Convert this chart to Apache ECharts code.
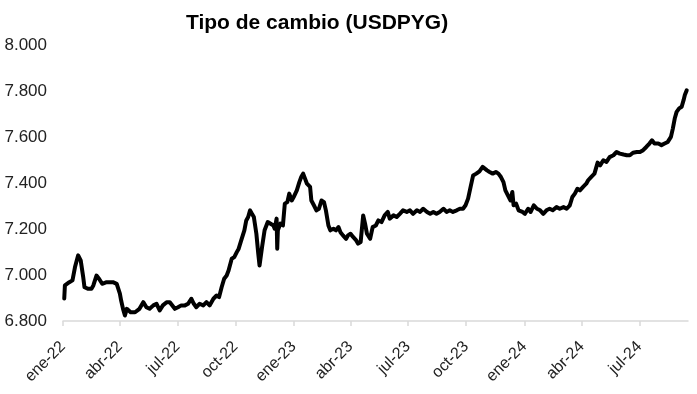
<!DOCTYPE html>
<html>
<head>
<meta charset="utf-8">
<script src="https://cdn.jsdelivr.net/npm/echarts@6/dist/echarts.min.js"></script>
<style>
html,body{margin:0;padding:0;background:#fff;}
#chart{width:697px;height:394px;}
</style>
</head>
<body>
<div id="chart"></div>
<script>
var titleText = 'Tipo de cambio (USDPYG)';

var dates = [
'2022-01-03','2022-01-04','2022-01-07','2022-01-11','2022-01-16','2022-01-20','2022-01-25','2022-01-29',
'2022-02-02','2022-02-04','2022-02-10','2022-02-15','2022-02-18','2022-02-23','2022-02-27',
'2022-03-04','2022-03-11','2022-03-16','2022-03-21','2022-03-27',
'2022-04-01','2022-04-03','2022-04-06','2022-04-09','2022-04-12','2022-04-18','2022-04-25',
'2022-05-02','2022-05-08','2022-05-13','2022-05-18','2022-05-24','2022-05-29',
'2022-06-03','2022-06-08','2022-06-14','2022-06-19','2022-06-22','2022-06-27',
'2022-07-02','2022-07-07','2022-07-13','2022-07-18','2022-07-23','2022-07-27','2022-07-31',
'2022-08-05','2022-08-11','2022-08-16','2022-08-21','2022-08-27',
'2022-09-01','2022-09-05','2022-09-09','2022-09-13','2022-09-17','2022-09-20','2022-09-25','2022-09-29',
'2022-10-03','2022-10-06','2022-10-10','2022-10-15','2022-10-18','2022-10-21','2022-10-24','2022-10-27','2022-10-30',
'2022-11-03','2022-11-06','2022-11-08','2022-11-12','2022-11-16','2022-11-21','2022-11-24','2022-11-30',
'2022-12-02','2022-12-05','2022-12-06','2022-12-07','2022-12-11','2022-12-15','2022-12-18','2022-12-22','2022-12-25','2022-12-29',
'2023-01-01','2023-01-06','2023-01-10','2023-01-13','2023-01-16','2023-01-19','2023-01-22','2023-01-27','2023-01-29',
'2023-02-02','2023-02-06','2023-02-10','2023-02-14','2023-02-18','2023-02-21','2023-02-25','2023-02-28',
'2023-03-05','2023-03-09','2023-03-13','2023-03-16','2023-03-20','2023-03-25','2023-03-28',
'2023-04-01','2023-04-05','2023-04-10','2023-04-13','2023-04-17','2023-04-21','2023-04-24','2023-04-27',
'2023-05-02','2023-05-06','2023-05-11','2023-05-15','2023-05-20','2023-05-25','2023-05-30',
'2023-06-02','2023-06-08','2023-06-13','2023-06-18','2023-06-23','2023-06-29',
'2023-07-04','2023-07-09','2023-07-15','2023-07-20','2023-07-25','2023-07-31',
'2023-08-05','2023-08-10','2023-08-15','2023-08-20','2023-08-26','2023-08-31',
'2023-09-05','2023-09-10','2023-09-16','2023-09-21','2023-09-26','2023-09-30',
'2023-10-04','2023-10-08','2023-10-12','2023-10-17','2023-10-22','2023-10-27','2023-10-30',
'2023-11-03','2023-11-07','2023-11-12','2023-11-17','2023-11-21','2023-11-25','2023-11-29',
'2023-12-02','2023-12-06','2023-12-10','2023-12-13','2023-12-15','2023-12-19','2023-12-23','2023-12-29',
'2024-01-02','2024-01-07','2024-01-11','2024-01-16','2024-01-21','2024-01-26','2024-01-31',
'2024-02-05','2024-02-10','2024-02-15','2024-02-21','2024-02-26',
'2024-03-03','2024-03-08','2024-03-13','2024-03-17','2024-03-21','2024-03-25','2024-03-29',
'2024-04-03','2024-04-08','2024-04-11','2024-04-16','2024-04-21','2024-04-26','2024-04-30',
'2024-05-05','2024-05-10','2024-05-15','2024-05-21','2024-05-26','2024-05-31',
'2024-06-06','2024-06-11','2024-06-16','2024-06-21','2024-06-27',
'2024-07-02','2024-07-07','2024-07-12','2024-07-17','2024-07-21','2024-07-25','2024-07-31',
'2024-08-05','2024-08-10','2024-08-15','2024-08-20','2024-08-23','2024-08-26','2024-08-29',
'2024-09-02','2024-09-06','2024-09-09','2024-09-11','2024-09-14'
];

var usdpyg = [
6898,6955,6962,6969,6977,7035,7086,7064,
6991,6947,6940,6940,6955,6998,6984,
6962,6969,6969,6969,6962,
6919,6889,6853,6824,6853,6838,6838,
6853,6882,6860,6853,6868,6875,
6846,6868,6882,6882,6875,6853,
6860,6868,6868,6875,6897,6875,6860,
6875,6868,6882,6868,6897,
6911,6904,6947,6984,6998,7020,7071,7078,
7100,7115,7151,7195,7238,7253,7282,7267,7253,
7180,7093,7042,7122,7195,7231,7224,7216,
7202,7246,7115,7195,7224,7216,7311,7318,7355,7325,
7340,7369,7405,7427,7442,7420,7398,7384,7325,
7304,7282,7289,7325,7318,7282,7216,7195,
7202,7195,7209,7187,7173,7158,7173,
7180,7166,7151,7137,7144,7260,7224,7180,
7158,7209,7216,7238,7231,7260,7275,
7246,7260,7253,7267,7282,7275,
7282,7267,7282,7275,7289,7275,
7267,7275,7267,7275,7289,7275,
7282,7275,7282,7289,7289,7304,
7333,7384,7434,7442,7452,7471,7471,
7456,7449,7442,7449,7442,7427,7405,
7369,7347,7325,7362,7304,7311,7282,7275,
7267,7289,7275,7304,7289,7282,7267,
7282,7289,7282,7296,7289,
7296,7289,7304,7340,7355,7376,7369,
7384,7398,7413,7428,7442,7490,7478,
7500,7493,7514,7522,7536,7529,
7525,7522,7522,7533,7536,
7536,7544,7558,7573,7587,7573,7573,
7566,7573,7580,7602,7638,7682,7711,
7726,7733,7762,7784,7805
];

var xTickDates = ['2022-01-01','2022-04-01','2022-07-01','2022-10-01','2023-01-01','2023-04-01','2023-07-01','2023-10-01','2024-01-01','2024-04-01','2024-07-01'];
var xTickLabels = ['ene-22','abr-22','jul-22','oct-22','ene-23','abr-23','jul-23','oct-23','ene-24','abr-24','jul-24'];
var xMin = '2022-01-01';
var xMax = '2024-09-16';
var yMin = 6800, yMax = 8000, yStep = 200;

function ts(s){ var p = s.split('-'); return Date.UTC(+p[0], +p[1]-1, +p[2]); }
var tickTimes = xTickDates.map(ts);
var seriesData = dates.map(function(d,i){ return [ts(d), usdpyg[i]]; });

function fmtThousands(v){
  var s = String(Math.round(v));
  return s.replace(/\B(?=(\d{3})+(?!\d))/g, '.');
}

var chart = echarts.init(document.getElementById('chart'), null, {renderer:'canvas'});
chart.setOption({
  animation: false,
  backgroundColor: '#ffffff',
  title: {
    text: titleText,
    left: 181,
    top: 8,
    textStyle: {fontFamily: 'Liberation Sans, Arial, sans-serif', fontWeight: 'bold', fontSize: 21, color: '#000'}
  },
  grid: {left: 63, right: 9, top: 45.5, bottom: 73, containLabel: false},
  xAxis: {
    type: 'value',
    min: ts(xMin),
    max: ts(xMax),
    splitLine: {show: false},
    axisLine: {show: true, lineStyle: {color: '#d9d9d9', width: 1.5}},
    axisTick: {show: true, customValues: tickTimes, length: 5, lineStyle: {color: '#d9d9d9', width: 1.5}},
    axisLabel: {
      customValues: tickTimes,
      rotate: 45,
      margin: 23,
      fontFamily: 'Liberation Sans, Arial, sans-serif',
      fontSize: 16,
      color: '#222',
      formatter: function(v){
        var i = tickTimes.indexOf(v);
        return i >= 0 ? xTickLabels[i] : '';
      }
    }
  },
  yAxis: {
    type: 'value',
    min: yMin,
    max: yMax,
    interval: yStep,
    splitLine: {show: false},
    axisLine: {show: false},
    axisTick: {show: false},
    axisLabel: {
      margin: 16,
      fontFamily: 'Liberation Sans, Arial, sans-serif',
      fontSize: 17,
      color: '#222',
      formatter: fmtThousands
    }
  },
  series: [{
    type: 'line',
    data: seriesData,
    showSymbol: false,
    symbol: 'none',
    lineStyle: {color: '#000', width: 4, join: 'round', cap: 'round'}
  }]
});
</script>
</body>
</html>
